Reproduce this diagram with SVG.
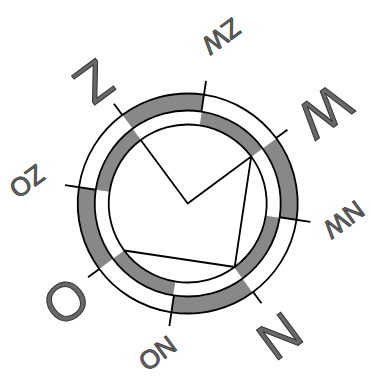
<svg xmlns="http://www.w3.org/2000/svg" width="371" height="376" viewBox="0 0 371 376">
  <style>
    .line { fill: none; stroke: #000; stroke-width: 1.8; stroke-linejoin: round; }
    .band { fill: none; stroke: #888; }
    .big { font-family: "Liberation Sans", Arial, sans-serif; font-size: 54px; fill: #686868; stroke: #333; stroke-width: 1; text-anchor: middle; }
    .small { font-family: "Liberation Sans", Arial, sans-serif; font-size: 26px; fill: #686868; stroke: #333; stroke-width: 0.8; text-anchor: middle; }
  </style>
  <rect width="371" height="376" fill="#fff"/>
  <g id="compass" transform="translate(187.7,203.5) rotate(143.5)">
    <g id="bands">
      <circle class="band" r="101.5" stroke-width="17" stroke-dasharray="79.717 79.717"/>
      <circle class="band" r="86" stroke-width="14" stroke-dasharray="67.544 67.544" stroke-dashoffset="67.544"/>
    </g>
    <g id="rings">
      <circle class="line" r="110"/>
      <circle class="line" r="93"/>
      <circle class="line" r="79"/>
    </g>
    <g id="ticks">
      <line class="line" x1="0" y1="-110" x2="0" y2="-124"/>
      <line class="line" x1="110" y1="0" x2="124" y2="0"/>
      <line class="line" x1="0" y1="110" x2="0" y2="124"/>
      <line class="line" x1="-110" y1="0" x2="-124" y2="0"/>
      <line class="line" x1="65.76" y1="-65.76" x2="87.68" y2="-87.68"/>
      <line class="line" x1="65.76" y1="65.76" x2="87.68" y2="87.68"/>
      <line class="line" x1="-65.76" y1="65.76" x2="-87.68" y2="87.68"/>
      <line class="line" x1="-65.76" y1="-65.76" x2="-87.68" y2="-87.68"/>
    </g>
    <g id="connectors">
      <polyline class="line" points="0,79 0,0 -79,0 0,-79 79,0"/>
    </g>
    <g id="label-N"><text class="big" x="5" y="-142.7">N</text></g>
    <g id="label-O"><text class="big" x="156" y="12.3">O</text></g>
    <g id="label-Z"><text class="big" x="2.5" y="171.7">Z</text></g>
    <g id="label-W"><text class="big" x="-165" y="11.3">W</text></g>
    <g id="label-NO"><text class="small" x="113.5" y="-93.5">NO</text></g>
    <g id="label-ZO"><text class="small" x="116" y="122.3">ZO</text></g>
    <g id="label-ZW"><text class="small" x="-126.5" y="123.3">ZW</text></g>
    <g id="label-NW"><text class="small" x="-116" y="-96.7">NW</text></g>
  </g>
</svg>
